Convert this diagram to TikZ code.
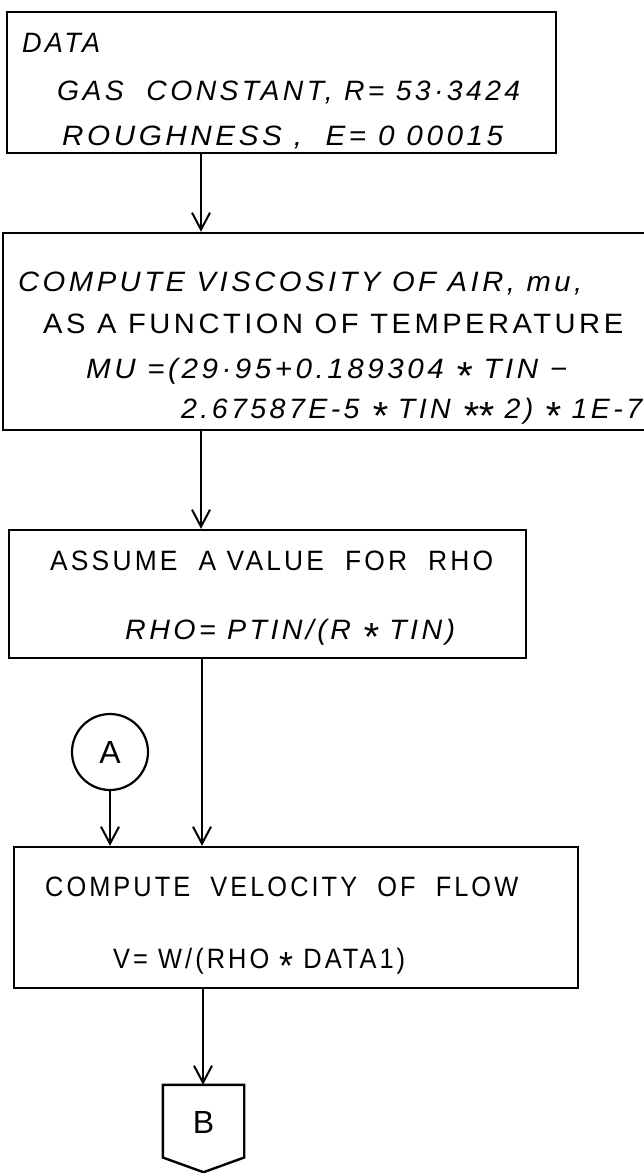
\documentclass[tikz,border=0pt]{standalone}
\usepackage{fontspec}
\usepackage{graphicx}
\newfontfamily\hand{Liberation Sans}[LetterSpace=12]
\usetikzlibrary{arrows.meta,shapes.geometric}
\newcommand\fitw[2]{\resizebox{#1pt}{\height}{#2}}
\newcommand\stx{\raisebox{-0.42em}{\scalebox{1.4}{*}}}
\begin{document}
\begin{tikzpicture}[x=1pt,y=-1pt,
  box/.style={draw, rectangle, line width=2.4pt, inner sep=0pt},
  arr/.style={-{Straight Barb[length=17pt,width=18pt,line width=2pt]}, line width=2pt},
  txt/.style={inner sep=0pt, anchor=base west, font=\hand\fontsize{28}{32}\selectfont},
  conn/.style={draw, circle, line width=2.2pt, minimum size=76pt, inner sep=0pt, font=\hand\fontsize{32}{34}\selectfont}]
\clip (0,0) rectangle (644,1173);
\fill[white] (0,0) rectangle (644,1173);
% boxes
\node[box, minimum width=549pt, minimum height=141pt] (data) at (281.5,82.5) {};
\node[box, minimum width=657pt, minimum height=197pt] (visc) at (331.5,331.5) {};
\node[box, minimum width=517pt, minimum height=128pt] (rho) at (267.5,594) {};
\node[box, minimum width=564pt, minimum height=141pt] (vel) at (296,917.5) {};
\node[conn] (A) at (110,752) {A};
\node[inner sep=0pt, minimum width=81pt, minimum height=87pt] (B) at (203.5,1128.5) {};
\draw[line width=2.4pt, line join=miter] (B.north west) -- (B.north east) -- ([yshift=-29pt]B.east) -- (B.south) -- ([yshift=-29pt]B.west) -- cycle;
\node[inner sep=0pt, font=\hand\fontsize{32}{34}\selectfont] (Bt) at (203.5,1122) {B};
% columns for connectors
\coordinate (c1) at (201,0);
\coordinate (c2) at (202,0);
\coordinate (c3) at (203,0);
\draw[arr] (c1 |- data.south) -- (c1 |- visc.north);
\draw[arr] (c1 |- visc.south) -- (c1 |- rho.north);
\draw[arr] (c2 |- rho.south) -- (c2 |- vel.north);
\draw[arr] (A.south) -- (A.south |- vel.north);
\draw[arr] (c3 |- vel.south) -- (c3 |- B.north);
% texts
\node[txt] (t1) at (22,52) {\fitw{78}{\itshape DATA}};
\node[txt] (t2) at (57,100) {\fitw{463}{\itshape GAS\ \ CONSTANT, R= 53·3424}};
\node[txt] (t3) at (62,145) {\fitw{441}{\itshape ROUGHNESS ,\ \ E= 0 00015}};
\node[txt] (t4) at (18,291) {\fitw{564}{\itshape COMPUTE VISCOSITY OF AIR, mu,}};
\node[txt] (t5) at (43,333) {\fitw{580}{AS A FUNCTION OF TEMPERATURE}};
\node[txt] (t6) at (86,378) {\fitw{481}{\itshape MU =(29·95+0.189304 \stx\ TIN −}};
\node[txt] (t7) at (181,418) {\fitw{461}{\itshape 2.67587E-5 \stx\ TIN \stx\stx\ 2) \stx\ 1E-7}};
\node[txt] (t8) at (50,570) {\fitw{443}{ASSUME\ \ A VALUE\ \ FOR\ \ RHO}};
\node[txt] (t9) at (125,639) {\fitw{330}{\itshape RHO= PTIN/(R \stx\ TIN)}};
\node[txt] (t10) at (45,896) {\fitw{473}{COMPUTE\ \ VELOCITY\ \ OF\ \ FLOW}};
\node[txt] (t11) at (113,968) {\fitw{292}{V= W/(RHO \stx\ DATA1)}};
\end{tikzpicture}
\end{document}
